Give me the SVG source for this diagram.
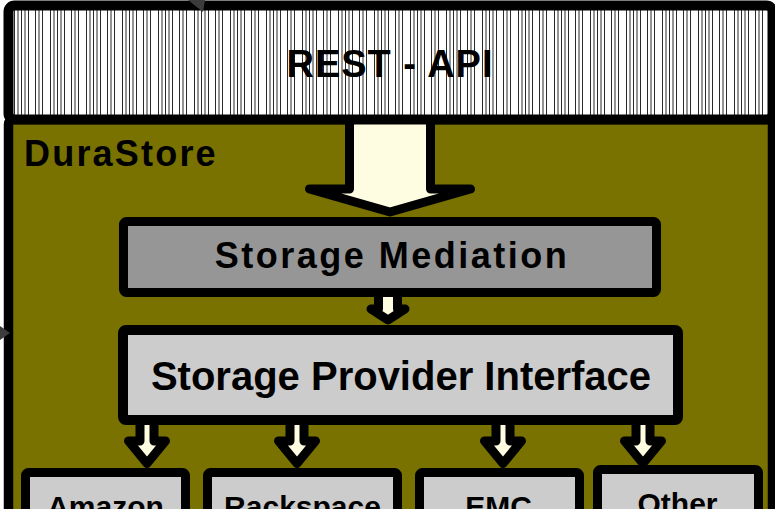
<svg xmlns="http://www.w3.org/2000/svg" width="775" height="509" viewBox="0 0 775 509">
  <defs>
    <pattern id="vlines" patternUnits="userSpaceOnUse" x="13" y="0" width="36" height="10">
      <rect width="36" height="10" fill="#ffffff"/>
      <g stroke="#2a2a2a" stroke-width="1">
        <line x1="1.5" y1="0" x2="1.5" y2="10"/>
        <line x1="5" y1="0" x2="5" y2="10"/>
        <line x1="8.5" y1="0" x2="8.5" y2="10"/>
        <line x1="12" y1="0" x2="12" y2="10"/>
        <line x1="15.5" y1="0" x2="15.5" y2="10"/>
        <line x1="22.5" y1="0" x2="22.5" y2="10"/>
        <line x1="26" y1="0" x2="26" y2="10"/>
        <line x1="29.5" y1="0" x2="29.5" y2="10"/>
      </g>
    </pattern>
  </defs>
  <style>
    .frame { stroke: #000; stroke-linejoin: round; }
    .lbl { font-family: "Liberation Sans", Arial, sans-serif; font-weight: bold; fill: #000; }
    .arrow { fill: #fffde1; stroke: #000; stroke-linejoin: round; }
    .prov { fill: #cccccc; stroke: #000; stroke-width: 9; }
  </style>

  <rect width="775" height="509" fill="#ffffff"/>

  <g id="durastore">
    <rect class="frame" x="8.5" y="119.5" width="764" height="430" rx="5" fill="#797200" stroke-width="9.5"/>
    <text class="lbl" x="24" y="166" font-size="36" letter-spacing="2.2">DuraStore</text>
  </g>

  <g id="connectors">
    <polygon class="arrow" stroke-width="9" points="349.5,119.5 430.5,119.5 430.5,189 470.5,189 390,212 309.5,189 349.5,189"/>
    <polygon class="arrow" stroke-width="9" points="378.5,292 397.5,292 397.5,309 405,309 388,320 371,309 378.5,309"/>
    <polygon class="arrow" stroke-width="9" points="140,420 154,420 154,441 165.5,441 147,463.5 128.5,441 140,441"/>
    <polygon class="arrow" stroke-width="9" points="290,420 304,420 304,441 315.5,441 297,463.5 278.5,441 290,441"/>
    <polygon class="arrow" stroke-width="9" points="496,420 510,420 510,441 521.5,441 503,463.5 484.5,441 496,441"/>
    <polygon class="arrow" stroke-width="9" points="636,420 650,420 650,441 661.5,441 643,463.5 624.5,441 636,441"/>
  </g>

  <g id="rest-api">
    <rect class="frame" x="8.5" y="5.5" width="764" height="114" rx="6" fill="url(#vlines)" stroke-width="10"/>
    <text class="lbl" x="390" y="77" font-size="38" letter-spacing="1" text-anchor="middle">REST - API</text>
  </g>

  <g id="storage-mediation">
    <rect class="frame" x="123.5" y="221.5" width="533" height="71" rx="3" fill="#969696" stroke-width="9"/>
    <text class="lbl" x="392" y="268" font-size="36" letter-spacing="2.5" text-anchor="middle">Storage Mediation</text>
  </g>

  <g id="storage-provider-interface">
    <rect class="frame" x="123" y="330" width="555" height="90" rx="3" fill="#cccccc" stroke-width="10"/>
    <text class="lbl" x="401" y="390" font-size="40" text-anchor="middle">Storage Provider Interface</text>
  </g>

  <g id="amazon">
    <rect class="prov" x="25.5" y="472.5" width="160" height="80" rx="3"/>
    <text class="lbl" x="105.5" y="517" font-size="30" text-anchor="middle">Amazon</text>
  </g>
  <g id="rackspace">
    <rect class="prov" x="207.5" y="472.5" width="190" height="80" rx="3"/>
    <text class="lbl" x="302.5" y="517" font-size="30" text-anchor="middle">Rackspace</text>
  </g>
  <g id="emc">
    <rect class="prov" x="419.5" y="472.5" width="160" height="80" rx="3"/>
    <text class="lbl" x="498.5" y="517" font-size="30" text-anchor="middle">EMC</text>
  </g>
  <g id="other">
    <rect class="prov" x="597.5" y="469.5" width="161" height="80" rx="3"/>
    <text class="lbl" x="677.5" y="514" font-size="30" text-anchor="middle">Other</text>
  </g>

  <polygon points="188,0 205,0 203,12" fill="#3c3c3c"/>
  <polygon points="0,326 10,333 0,340" fill="#3c3c3c"/>
</svg>
